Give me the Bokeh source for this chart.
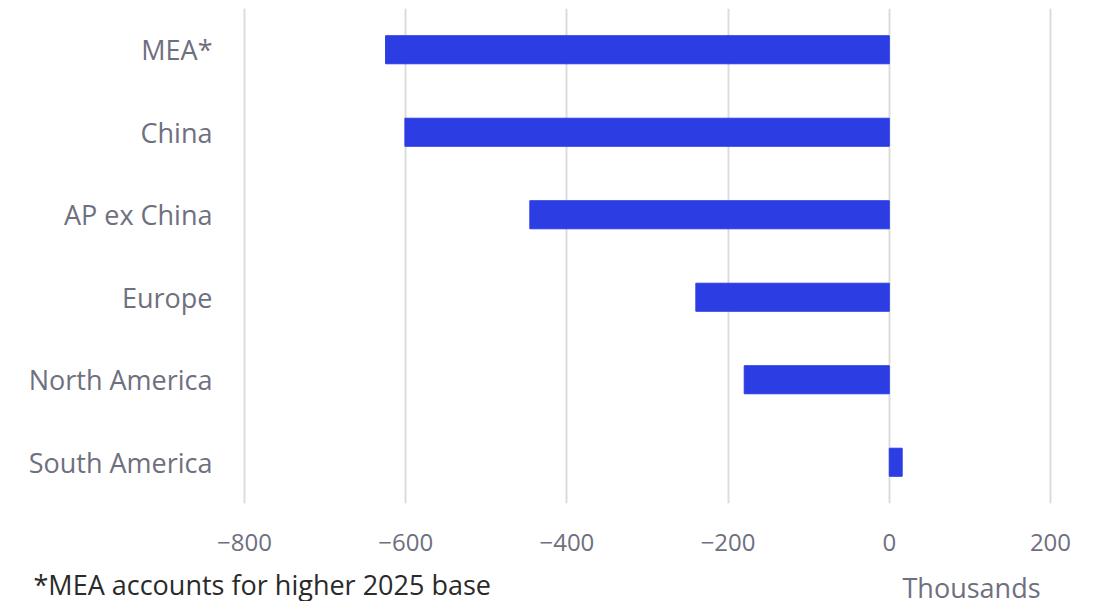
from bokeh.plotting import figure
from bokeh.models import Range1d, FixedTicker, Label
from bokeh.layouts import column
from bokeh.embed import file_html
from bokeh.resources import INLINE

regions = ["MEA*", "China", "AP ex China", "Europe", "North America", "South America"]
values = [-625, -601, -446, -240, -180, 16]
x_ticks = [-800, -600, -400, -200, 0, 200]
footnote = "*MEA accounts for higher 2025 base"
unit_label = "Thousands"

FONT = "Open Sans"
LABEL_COLOR = "#6e7080"
BAR_COLOR = "#2b3de3"

p = figure(width=1097, height=560, y_range=list(reversed(regions)),
           x_range=Range1d(-805, 205), output_backend="svg", toolbar_location=None,
           min_border_left=240, min_border_right=43, min_border_top=8, min_border_bottom=57)
p.outline_line_color = None
p.background_fill_color = "white"
p.border_fill_color = "white"
p.frame_align = False

p.hbar(y=regions, left=0, right=values, height=0.34, color=BAR_COLOR)

p.xaxis.ticker = FixedTicker(ticks=x_ticks)
p.xaxis.axis_line_color = None
p.xaxis.major_tick_line_color = None
p.xaxis.minor_tick_line_color = None
p.xaxis.major_label_text_font = FONT
p.xaxis.major_label_text_font_size = "24px"
p.xaxis.major_label_text_color = LABEL_COLOR
p.xaxis.major_label_standoff = 24

p.yaxis.axis_line_color = None
p.yaxis.major_tick_line_color = None
p.yaxis.minor_tick_line_color = None
p.yaxis.major_label_text_font = FONT
p.yaxis.major_label_text_font_size = "27px"
p.yaxis.major_label_text_color = LABEL_COLOR
p.yaxis.major_label_standoff = 22

p.xgrid.grid_line_color = "#dcdcdc"
p.xgrid.grid_line_width = 2
p.ygrid.grid_line_color = None

# footer strip with footnote and unit label
f = figure(width=1097, height=41, x_range=Range1d(0, 1097), y_range=Range1d(0, 41),
           output_backend="svg", toolbar_location=None,
           min_border_left=0, min_border_right=0, min_border_top=0, min_border_bottom=0)
f.frame_align = False
f.axis.visible = False
f.grid.grid_line_color = None
f.outline_line_color = None
f.add_layout(Label(x=33, y=17, x_units="screen", y_units="screen", text=footnote,
                   text_font=FONT, text_font_size="27px", text_color="#2a2a2a",
                   text_baseline="middle"))
f.add_layout(Label(x=971, y=14, x_units="screen", y_units="screen", text=unit_label,
                   text_font=FONT, text_font_size="27px", text_color=LABEL_COLOR,
                   text_align="center", text_baseline="middle"))

layout = column(p, f, spacing=0)
open("out.html", "w").write(file_html(layout, INLINE))
